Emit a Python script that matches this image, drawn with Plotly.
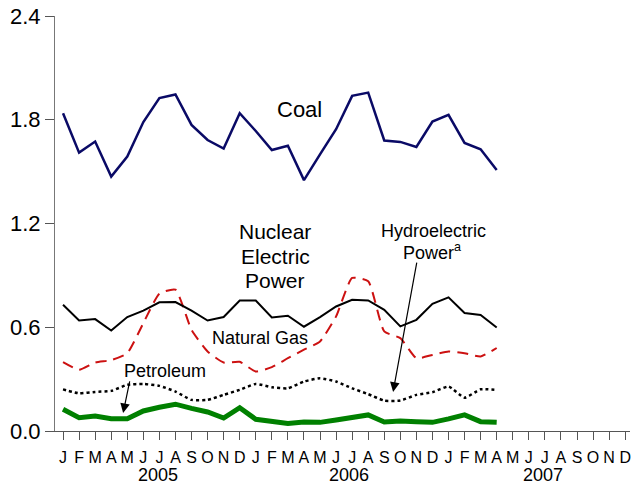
import plotly.graph_objects as go

months = list(range(28))
month_letters = ["J", "F", "M", "A", "M", "J", "J", "A", "S", "O", "N", "D"] * 3
tick_positions = list(range(36))
years = ["2005", "2006", "2007"]
year_centers = [5.9, 17.8, 29.9]

coal = [1.838, 1.61, 1.674, 1.471, 1.587, 1.787, 1.925, 1.946, 1.77, 1.683, 1.633, 1.838,
        1.735, 1.625, 1.65, 1.451, 1.6, 1.745, 1.938, 1.957, 1.68, 1.672, 1.643, 1.79,
        1.828, 1.666, 1.629, 1.509]
nuclear = [0.730, 0.639, 0.647, 0.581, 0.659, 0.696, 0.744, 0.746, 0.696, 0.639, 0.659, 0.754,
           0.754, 0.657, 0.667, 0.603, 0.659, 0.72, 0.759, 0.755, 0.701, 0.605, 0.643, 0.736,
           0.773, 0.682, 0.671, 0.599]
natural_gas = [0.398, 0.354, 0.396, 0.41, 0.45, 0.624, 0.794, 0.817, 0.585, 0.46, 0.396, 0.40,
               0.344, 0.369, 0.421, 0.47, 0.518, 0.663, 0.885, 0.866, 0.576, 0.537, 0.421, 0.44,
               0.46, 0.45, 0.431, 0.48]
hydro = [0.241, 0.218, 0.226, 0.232, 0.267, 0.272, 0.261, 0.228, 0.18, 0.18, 0.209, 0.238,
         0.272, 0.253, 0.247, 0.286, 0.305, 0.286, 0.247, 0.213, 0.176, 0.176, 0.209, 0.224,
         0.257, 0.193, 0.241, 0.238]
petroleum = [0.126, 0.077, 0.087, 0.071, 0.071, 0.116, 0.137, 0.155, 0.131, 0.11, 0.075, 0.135,
             0.068, 0.054, 0.044, 0.052, 0.05, 0.064, 0.079, 0.093, 0.052, 0.058, 0.054, 0.05,
             0.07, 0.093, 0.054, 0.05]

FONT = "Liberation Sans, Arial, sans-serif"

fig = go.Figure()
fig.add_trace(go.Scatter(x=months, y=natural_gas, mode="lines",
                         line=dict(color="#cc1111", width=2, dash="11px,7px", shape="spline", smoothing=0.5)))
fig.add_trace(go.Scatter(x=months, y=hydro, mode="lines",
                         line=dict(color="black", width=2.5, dash="3px,3px", shape="spline", smoothing=0.5)))
fig.add_trace(go.Scatter(x=months, y=petroleum, mode="lines",
                         line=dict(color="#008000", width=5)))
fig.add_trace(go.Scatter(x=months, y=nuclear, mode="lines",
                         line=dict(color="black", width=2)))
fig.add_trace(go.Scatter(x=months, y=coal, mode="lines",
                         line=dict(color="#0a0a66", width=2.5)))

annotations = [
    dict(x=14.71, y=1.857, text="Coal", font=dict(size=22)),
    dict(x=13.22, y=1.151, text="Nuclear", font=dict(size=21)),
    dict(x=13.22, y=1.008, text="Electric", font=dict(size=21)),
    dict(x=13.22, y=0.873, text="Power", font=dict(size=21)),
    dict(x=12.27, y=0.536, text="Natural Gas", font=dict(size=18)),
    dict(x=6.35, y=0.349, text="Petroleum", font=dict(size=18)),
    dict(x=23.06, y=1.158, text="Hydroelectric", font=dict(size=18)),
    dict(x=23.0, y=1.037, text="Power<sup>a</sup>", font=dict(size=18)),
]
for a in annotations:
    a.update(xref="x", yref="y", showarrow=False, xanchor="center", yanchor="middle")
    a["font"].update(family=FONT, color="black")

# arrows
annotations.append(dict(x=3.74, y=0.104, ax=4.17, ay=0.295, xref="x", yref="y", axref="x", ayref="y",
                        text="", showarrow=True, arrowhead=2, arrowsize=1.6, arrowwidth=1.2, arrowcolor="black"))
annotations.append(dict(x=20.55, y=0.226, ax=22.04, ay=0.983, xref="x", yref="y", axref="x", ayref="y",
                        text="", showarrow=True, arrowhead=2, arrowsize=1.6, arrowwidth=1.2, arrowcolor="black"))

for yr, xc in zip(years, year_centers):
    annotations.append(dict(x=xc, y=0, xref="x", yref="paper", text=yr, showarrow=False,
                            xanchor="center", yanchor="middle", yshift=-44,
                            font=dict(family=FONT, size=18, color="black")))

fig.update_layout(
    width=644, height=485,
    margin=dict(l=55, r=14, t=16, b=54, autoexpand=False),
    paper_bgcolor="white", plot_bgcolor="white",
    showlegend=False,
    font=dict(family=FONT, color="black"),
    annotations=annotations,
    xaxis=dict(range=[-0.5, 35.3], tickmode="array", tickvals=tick_positions, ticktext=month_letters,
               ticks="outside", ticklen=8, tickcolor="#555", tickwidth=1, automargin=False,
               ticklabelstandoff=4,
               showline=True, linecolor="#555", linewidth=1, showgrid=False, zeroline=False,
               tickfont=dict(family=FONT, size=16, color="black")),
    yaxis=dict(range=[0, 2.4], tickvals=[0, 0.6, 1.2, 1.8, 2.4], tickformat=".1f",
               ticks="outside", ticklen=9, tickcolor="#555", tickwidth=1, automargin=False,
               showline=True, linecolor="#777", linewidth=1, showgrid=False, zeroline=False,
               tickfont=dict(family=FONT, size=22, color="black")),
)

# remove the browser's default 8px body margin so the figure sits at the window's top-left
fig.write_html("out.html", config={"displayModeBar": False},
               post_script="document.body.style.margin='0';")
